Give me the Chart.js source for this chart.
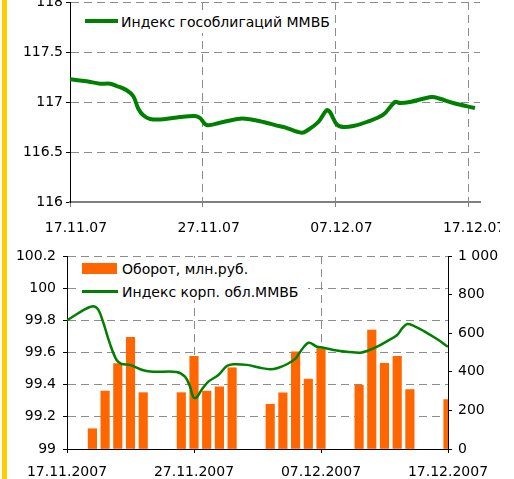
<!DOCTYPE html>
<html><head><meta charset="utf-8">
<script src="https://cdn.jsdelivr.net/npm/chart.js@4.4.0/dist/chart.umd.min.js"></script>
<style>
html,body{margin:0;padding:0;background:#fff;}
body{width:514px;height:479px;overflow:hidden;position:relative;}
#strip{position:absolute;left:2px;top:0;width:5px;height:479px;background:#FFCC00;}
#c1{position:absolute;left:0;top:0;}
#c2{position:absolute;left:0;top:240px;}
.bg{position:absolute;background:#fff;}
.sym{position:absolute;}
.lg{position:absolute;font-family:"DejaVu Sans";font-size:14px;line-height:16px;color:#000;white-space:nowrap;}
</style></head><body>
<div id="strip"></div>
<canvas id="c1" width="500" height="240"></canvas>
<canvas id="c2" width="514" height="239"></canvas>
<div class="bg" style="left:80px;top:11px;width:255px;height:22px;"></div>
<div class="sym" style="left:85px;top:19px;width:33px;height:4px;background:#008000;"></div>
<div class="lg" id="lg1" style="left:121px;top:14px;"></div>
<div class="bg" style="left:76px;top:258px;width:232px;height:42px;"></div>
<div class="sym" style="left:82px;top:263px;width:35px;height:11px;background:#FF6600;"></div>
<div class="sym" style="left:82px;top:290px;width:36px;height:3px;background:#008000;"></div>
<div class="lg" id="lg2a" style="left:122px;top:261px;"></div>
<div class="lg" id="lg2b" style="left:122px;top:284px;"></div>
<script>
// ---- Top chart data ----
const topSeriesName = 'Индекс гособлигаций ММВБ';
const topDays  = [0, 1.26, 2.26, 3.01, 3.52, 4.27, 4.77, 5.15, 5.52, 6.03, 7.03, 8.29, 9.42, 9.8, 10.3, 11.3, 12.81, 13.56, 14.57, 15.83, 16.2, 17.46, 17.96, 18.71, 19.34, 19.59, 20.1, 20.6, 21.35, 22.36, 23.61, 24.49, 24.87, 25.62, 27.26, 27.88, 28.88, 30.52];
const topIndex = [117.227, 117.207, 117.183, 117.183, 117.16, 117.117, 117.057, 116.933, 116.867, 116.83, 116.827, 116.85, 116.86, 116.84, 116.77, 116.793, 116.833, 116.827, 116.8, 116.757, 116.747, 116.693, 116.723, 116.8, 116.917, 116.9, 116.777, 116.75, 116.76, 116.8, 116.873, 117.0, 116.99, 117.0, 117.05, 117.033, 116.99, 116.94];
const topXTicks  = [0, 10, 20, 30];
const topXLabels = ['17.11.07', '27.11.07', '07.12.07', '17.12.07'];
const topYTicks  = [116, 116.5, 117, 117.5, 118];
const topYLabels = ['116', '116.5', '117', '117.5', '118'];

// ---- Bottom chart data ----
const barName = 'Оборот, млн.руб.';
const lineName = 'Индекс корп. обл.ММВБ';
const barDays   = [2, 3, 4, 5, 6, 9, 10, 11, 12, 13, 16, 17, 18, 19, 20, 23, 24, 25, 26, 27, 30];
const turnover  = [105, 300, 442, 578, 292, 292, 480, 300, 322, 421, 232, 291, 504, 362, 520, 331, 616, 444, 480, 308, 256];
const lineDays  = [0, 1.4, 2.05, 2.45, 2.84, 3.37, 3.9, 4.29, 4.95, 6.0, 6.79, 8.63, 9.29, 9.68, 9.95, 10.2, 10.6, 11.13, 11.92, 12.58, 13.1, 14.16, 15.21, 16.0, 16.53, 17.32, 17.97, 18.37, 19.02, 19.68, 20.2, 21.0, 22.05, 23.1, 23.63, 24.42, 25.21, 26.0, 26.39, 26.79, 27.3, 28.1, 29.16, 30];
const corpIndex = [99.80, 99.868, 99.888, 99.868, 99.79, 99.657, 99.554, 99.529, 99.523, 99.49, 99.48, 99.479, 99.45, 99.39, 99.322, 99.32, 99.368, 99.419, 99.46, 99.516, 99.527, 99.523, 99.505, 99.496, 99.502, 99.527, 99.56, 99.605, 99.661, 99.636, 99.63, 99.616, 99.605, 99.599, 99.609, 99.636, 99.671, 99.709, 99.75, 99.777, 99.766, 99.733, 99.682, 99.636];
const botXTicks  = [0, 10, 20, 30];
const botXLabels = ['17.11.2007', '27.11.2007', '07.12.2007', '17.12.2007'];
const botYTicks  = [99, 99.2, 99.4, 99.6, 99.8, 100, 100.2];
const botYLabels = ['99', '99.2', '99.4', '99.6', '99.8', '100', '100.2'];
const botY2Ticks  = [0, 200, 400, 600, 800, 1000];
const botY2Labels = ['0', '200', '400', '600', '800', '1 000'];

document.getElementById('lg1').textContent = topSeriesName;
document.getElementById('lg2a').textContent = barName;
document.getElementById('lg2b').textContent = lineName;

Chart.defaults.font.family = 'DejaVu Sans';
Chart.defaults.font.size = 14;
Chart.defaults.color = '#000';

const setTicks = arr => s => { s.ticks = arr.map(v => ({value: v})); };
const GRID = '#8c8c8c';
const DASH = [8, 5];

new Chart(document.getElementById('c1'), {
  type: 'line',
  data: {datasets: [{
    label: topSeriesName,
    data: topDays.map((d, i) => ({x: d, y: topIndex[i]})),
    borderColor: '#008000', borderWidth: 4, pointRadius: 0, tension: 0.35, fill: false
  }]},
  options: {
    responsive: false, animation: false, events: [],
    layout: {padding: {top: 2, right: 20, left: 0, bottom: 0}},
    plugins: {legend: {display: false}, tooltip: {enabled: false}},
    scales: {
      x: {
        type: 'linear', min: 0, max: 30.9,
        afterBuildTicks: setTicks(topXTicks),
        afterFit: s => { s.height = 38; s.paddingLeft = 0; s.paddingRight = 0; },
        ticks: {callback: (v, i) => topXLabels[i], labelOffset: 6, padding: 13, maxRotation: 0, minRotation: 0, autoSkip: false},
        grid: {color: GRID, lineWidth: 1, tickLength: 5, tickColor: '#808080'},
        border: {display: true, color: '#808080', width: 2, dash: DASH}
      },
      y: {
        type: 'linear', min: 116, max: 118,
        afterBuildTicks: setTicks(topYTicks),
        afterFit: s => { s.width = 70; s.paddingTop = 0; s.paddingBottom = 0; },
        ticks: {callback: (v, i) => topYLabels[i], padding: 3},
        grid: {color: GRID, lineWidth: 1, tickLength: 4, tickColor: '#000'},
        border: {display: true, color: '#000', width: 1, dash: DASH}
      }
    }
  }
});

new Chart(document.getElementById('c2'), {
  type: 'line',
  data: {datasets: [
    {
      type: 'line', label: lineName, yAxisID: 'y', order: 0,
      data: lineDays.map((d, i) => ({x: d, y: corpIndex[i]})),
      borderColor: '#008000', borderWidth: 2.5, pointRadius: 0, tension: 0.35, fill: false
    },
    {
      type: 'bar', label: barName, yAxisID: 'y2', order: 1,
      data: barDays.map((d, i) => ({x: d, y: turnover[i]})),
      backgroundColor: '#FF6600', borderWidth: 0, barThickness: 8.5, clip: 0
    }
  ]},
  options: {
    responsive: false, animation: false, events: [],
    layout: {padding: {top: 16, right: 0, left: 0, bottom: 0}},
    plugins: {legend: {display: false}, tooltip: {enabled: false}},
    scales: {
      x: {
        type: 'linear', min: 0, max: 30, offset: false,
        afterBuildTicks: setTicks(botXTicks),
        afterFit: s => { s.height = 30; s.paddingLeft = 0; s.paddingRight = 0; },
        ticks: {callback: (v, i) => botXLabels[i], padding: 11, maxRotation: 0, minRotation: 0, autoSkip: false},
        grid: {color: GRID, lineWidth: 1, tickLength: 4, tickColor: '#000', offset: false},
        border: {display: true, color: '#000', width: 1, dash: DASH}
      },
      y: {
        type: 'linear', position: 'left', min: 99, max: 100.2,
        afterBuildTicks: setTicks(botYTicks),
        afterFit: s => { s.width = 67; s.paddingTop = 0; s.paddingBottom = 0; },
        ticks: {callback: (v, i) => botYLabels[i], padding: 7},
        grid: {color: GRID, lineWidth: 1, tickLength: 4, tickColor: '#000'},
        border: {display: true, color: '#000', width: 1, dash: DASH}
      },
      y2: {
        type: 'linear', position: 'right', min: 0, max: 1000,
        afterBuildTicks: setTicks(botY2Ticks),
        afterFit: s => { s.width = 66; s.paddingTop = 0; s.paddingBottom = 0; },
        ticks: {callback: (v, i) => botY2Labels[i], padding: 6},
        grid: {drawOnChartArea: false, tickLength: 4, tickColor: '#000'},
        border: {display: true, color: '#000', width: 1}
      }
    }
  }
});
</script>
</body></html>
